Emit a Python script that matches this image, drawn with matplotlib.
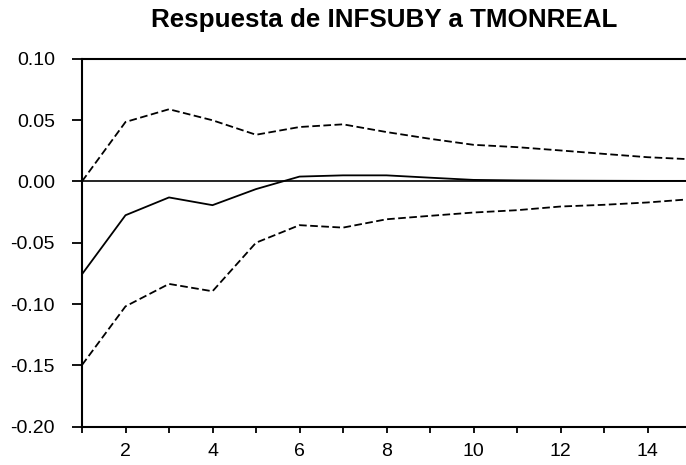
import matplotlib
matplotlib.use("Agg")
import matplotlib.pyplot as plt
from matplotlib.ticker import MultipleLocator, FixedLocator, FuncFormatter

plt.rcParams['font.family'] = ['Liberation Sans', 'DejaVu Sans']
plt.rcParams['lines.scale_dashes'] = False

periods = list(range(1, 16))
response = [-0.0757, -0.0276, -0.0131, -0.0194, -0.0063, 0.0039, 0.0049, 0.0049,
            0.0030, 0.0012, 0.0008, 0.0006, 0.0005, 0.0004, 0.0004]
upper = [0.0000, 0.0484, 0.0588, 0.0498, 0.0380, 0.0443, 0.0465, 0.0402,
         0.0347, 0.0298, 0.0279, 0.0252, 0.0224, 0.0197, 0.0180]
lower = [-0.1497, -0.1019, -0.0836, -0.0896, -0.0500, -0.0357, -0.0377, -0.0309,
         -0.0281, -0.0254, -0.0235, -0.0205, -0.0191, -0.0172, -0.0145]
title = "Respuesta de INFSUBY a TMONREAL"

fig = plt.figure(figsize=(6.86, 4.65), dpi=100)
W, H = 686, 465
left, right, top, bottom = 82, 691, 58.7, 426.7
ax = fig.add_axes([left / W, 1 - bottom / H, (right - left) / W, (bottom - top) / H])

ax.axhline(0, color='black', lw=1.2, zorder=1)
ax.plot(periods, response, color='black', lw=1.3, zorder=3)
ax.plot(periods, upper, color='black', lw=1.3, linestyle=(0, (5.5, 2.5)), zorder=2)
ax.plot(periods, lower, color='black', lw=1.3, linestyle=(0, (5.5, 2.5)), zorder=2)

ax.set_xlim(1, 15)
ax.set_ylim(-0.20, 0.10)
ax.xaxis.set_major_locator(FixedLocator([2, 4, 6, 8, 10, 12, 14]))
ax.xaxis.set_minor_locator(FixedLocator([1, 3, 5, 7, 9, 11, 13, 15]))
ax.yaxis.set_major_locator(MultipleLocator(0.05))
ax.yaxis.set_major_formatter(FuncFormatter(lambda v, p: f"{v:.2f}"))

for s in ['left', 'bottom', 'top']:
    ax.spines[s].set_linewidth(1.5)
ax.spines['right'].set_visible(False)

ax.tick_params(axis='y', which='major', direction='out', length=7.5, width=1.3,
               labelsize=14, pad=12)
ax.tick_params(axis='x', which='both', direction='out', length=4.5, width=1.3,
               labelsize=14, pad=7)

fig.text((left + 686) / 2 / W, 1 - 20 / H, title, ha='center', va='center',
         fontsize=18.7, fontweight='bold')

fig.savefig("out.png", dpi=100)
